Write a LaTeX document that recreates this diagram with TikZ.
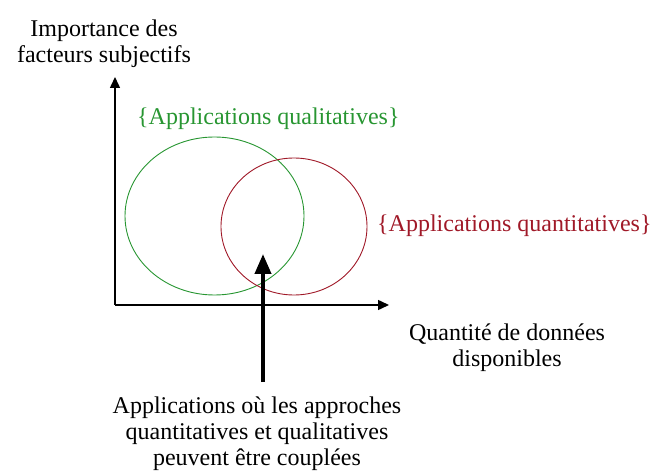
\documentclass[tikz,border=0pt]{standalone}
\usepackage{fontspec}
\setmainfont{Liberation Serif}
\usetikzlibrary{arrows.meta}
\definecolor{qualgreen}{RGB}{40,150,50}
\definecolor{quantred}{RGB}{160,25,40}
\begin{document}
\begin{tikzpicture}[x=1pt,y=-1pt,
  lbl/.style={inner sep=0pt,align=center,font=\fontsize{24}{26}\selectfont},
  axis/.style={line width=1.5pt,-{Triangle[length=11pt,width=10pt]}},
  bigarrow/.style={line width=4pt,-{Triangle[length=20pt,width=16pt]}},
  setline/.style={line width=0.9pt}]
\useasboundingbox (0,0) rectangle (659,473);
\coordinate (O) at (115,305);
\coordinate (ytip) at (115,77);
\coordinate (xtip) at (389,305);
\draw[axis] (O) -- (ytip);
\draw[axis] (O) -- (xtip);
\draw[setline,qualgreen] (214.5,216) ellipse [x radius=89.5, y radius=79];
\draw[setline,quantred] (294,226.5) ellipse [x radius=73, y radius=68.5];
\node[lbl,anchor=north] (ylab) at (104,20) {Importance des\\facteurs subjectifs};
\node[lbl,anchor=north] (xlab) at (507,324) {\fontsize{24}{30}\selectfont Quantité de données\\disponibles};
\node[lbl,anchor=base west,text=qualgreen] (qual) at (137,125) {\{Applications qualitatives\}};
\node[lbl,anchor=base west,text=quantred] (quant) at (377,232) {\{Applications quantitatives\}};
\node[lbl,anchor=north] (both) at (257,397) {\fontsize{24}{28}\selectfont Applications où les approches\\quantitatives et qualitatives\\peuvent être couplées};
\coordinate (arrtip) at (263,254);
\path (both.north -| arrtip) ++(0,-15) coordinate (arrbase);
\draw[bigarrow] (arrbase) -- (arrtip);
\end{tikzpicture}
\end{document}
